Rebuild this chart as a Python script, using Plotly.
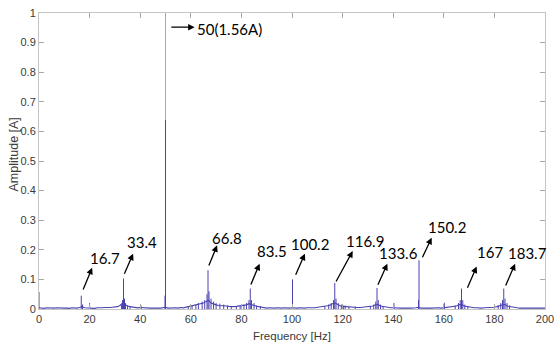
import plotly.graph_objects as go

# ---------------- data ----------------
# broadband floor of the spectrum, one value per Hz from 0 to 200 Hz
floor_freq = list(range(0, 201))
floor_amp = [
    0.004, 0.003, 0.002, 0.004, 0.003, 0.002, 0.003, 0.004, 0.003, 0.002,   # 0-9
    0.003, 0.003, 0.002, 0.004, 0.003, 0.003, 0.005, 0.008, 0.004, 0.003,   # 10-19
    0.003, 0.003, 0.002, 0.004, 0.003, 0.004, 0.005, 0.004, 0.005, 0.006,   # 20-29
    0.006, 0.008, 0.012, 0.020, 0.015, 0.010, 0.008, 0.006, 0.005, 0.004,   # 30-39
    0.005, 0.004, 0.003, 0.004, 0.003, 0.003, 0.004, 0.003, 0.003, 0.005,   # 40-49
    0.006, 0.003, 0.004, 0.003, 0.004, 0.003, 0.005, 0.004, 0.006, 0.008,   # 50-59
    0.009, 0.010, 0.012, 0.014, 0.016, 0.020, 0.025, 0.030, 0.020, 0.016,   # 60-69
    0.014, 0.012, 0.012, 0.010, 0.010, 0.009, 0.008, 0.008, 0.009, 0.010,   # 70-79
    0.011, 0.012, 0.014, 0.018, 0.016, 0.012, 0.009, 0.007, 0.005, 0.004,   # 80-89
    0.003, 0.004, 0.003, 0.003, 0.004, 0.003, 0.003, 0.004, 0.003, 0.003,   # 90-99
    0.004, 0.003, 0.003, 0.004, 0.003, 0.003, 0.004, 0.003, 0.004, 0.004,   # 100-109
    0.005, 0.006, 0.007, 0.009, 0.011, 0.013, 0.018, 0.020, 0.014, 0.011,   # 110-119
    0.009, 0.008, 0.007, 0.006, 0.006, 0.005, 0.005, 0.005, 0.006, 0.006,   # 120-129
    0.007, 0.008, 0.010, 0.014, 0.015, 0.010, 0.008, 0.006, 0.005, 0.004,   # 130-139
    0.004, 0.003, 0.004, 0.003, 0.003, 0.004, 0.003, 0.003, 0.003, 0.004,   # 140-149
    0.006, 0.003, 0.003, 0.004, 0.003, 0.003, 0.004, 0.003, 0.004, 0.003,   # 150-159
    0.004, 0.004, 0.005, 0.006, 0.008, 0.010, 0.014, 0.016, 0.010, 0.008,   # 160-169
    0.006, 0.005, 0.004, 0.004, 0.003, 0.003, 0.004, 0.004, 0.005, 0.005,   # 170-179
    0.006, 0.008, 0.010, 0.014, 0.016, 0.010, 0.008, 0.006, 0.005, 0.004,   # 180-189
    0.003, 0.004, 0.003, 0.003, 0.003, 0.004, 0.003, 0.003, 0.003, 0.003,   # 190-199
    0.003,                                                                   # 200
]
assert len(floor_amp) == len(floor_freq)

# discrete spectral lines (main harmonics and their side components)
line_freq = [
    0.0, 16.7, 17.2, 20.0,
    32.6, 33.0, 33.4, 33.8, 34.2, 35.0, 36.0, 40.3,
    49.8, 50.0,
    59.0, 60.5, 62.0, 63.0, 64.5, 65.5, 66.4, 66.8, 67.2, 68.0, 69.0, 70.0,
    71.5, 73.0, 74.5, 76.0,
    78.0, 79.5, 81.0, 82.0, 83.0, 83.5, 84.0, 85.0, 86.0, 87.5,
    100.2,
    113.0, 114.5, 115.5, 116.4, 116.9, 117.4, 118.3, 119.5, 120.3, 121.0, 122.5, 125.0,
    131.0, 132.3, 133.1, 133.6, 134.1, 135.0, 136.0, 140.3,
    150.0, 150.2, 160.2,
    164.5, 165.8, 166.5, 167.0, 167.5, 168.3, 169.5,
    180.0, 181.5, 182.5, 183.2, 183.7, 184.2, 185.0, 186.0,
]
line_amp = [
    0.057, 0.045, 0.015, 0.020,
    0.015, 0.030, 0.103, 0.035, 0.020, 0.012, 0.010, 0.012,
    0.045, 1.560,
    0.010, 0.012, 0.015, 0.020, 0.025, 0.030, 0.050, 0.131, 0.060, 0.035, 0.025, 0.020,
    0.018, 0.015, 0.012, 0.010,
    0.010, 0.012, 0.015, 0.020, 0.030, 0.069, 0.030, 0.020, 0.012, 0.010,
    0.100,
    0.010, 0.015, 0.020, 0.030, 0.088, 0.035, 0.020, 0.015, 0.012, 0.012, 0.008, 0.008,
    0.010, 0.015, 0.025, 0.071, 0.030, 0.015, 0.010, 0.020,
    0.030, 0.165, 0.021,
    0.012, 0.020, 0.030, 0.069, 0.030, 0.015, 0.010,
    0.010, 0.012, 0.020, 0.030, 0.069, 0.035, 0.020, 0.012,
]
assert len(line_amp) == len(line_freq)

# annotated harmonics
label_texts = ["16.7", "33.4", "66.8", "83.5", "100.2", "116.9",
               "133.6", "150.2", "167", "183.7"]
main_label = "50(1.56A)"

x_ticks = [0, 20, 40, 60, 80, 100, 120, 140, 160, 180, 200]
y_ticks = [0, 0.1, 0.2, 0.3, 0.4, 0.5, 0.6, 0.7, 0.8, 0.9, 1]
y_ticktext = ["0", "0.1", "0.2", "0.3", "0.4", "0.5", "0.6", "0.7", "0.8", "0.9", "1"]

# ---------------- styling / layout ----------------
LINE_COLOR = "#4a42b0"
MAIN_COLOR = "#a6a3da"

# arrow geometry per label: (tail x, tail y, head x, head y, text x, text y)
arrow_geom = [
    (17.2, 0.061, 21.0, 0.139, 26.0, 0.173),
    (33.5, 0.114, 37.2, 0.187, 40.6, 0.227),
    (66.9, 0.142, 70.4, 0.215, 74.5, 0.240),
    (83.5, 0.078, 87.2, 0.153, 92.1, 0.195),
    (101.2, 0.111, 105.1, 0.187, 107.1, 0.219),
    (117.1, 0.088, 124.0, 0.196, 128.8, 0.229),
    (133.7, 0.077, 137.7, 0.153, 141.9, 0.190),
    (151.3, 0.170, 155.2, 0.241, 161.3, 0.276),
    (169.1, 0.067, 173.0, 0.144, 178.1, 0.193),
    (184.2, 0.074, 188.2, 0.153, 192.9, 0.190),
]

# stems: each spectral line drawn from 0 up to its amplitude
stem_x, stem_y = [], []
for f, a in zip(line_freq, line_amp):
    stem_x += [f, f, None]
    stem_y += [0, min(a, 0.64), None]
# the fundamental continues above 0.64 in a lighter tone (anti-aliased trace)
main_idx = line_amp.index(max(line_amp))
main_x = [line_freq[main_idx], line_freq[main_idx]]
main_y = [0.64, line_amp[main_idx]]

fig = go.Figure()
fig.add_trace(go.Scatter(
    x=floor_freq, y=floor_amp, mode="lines",
    line=dict(color=LINE_COLOR, width=1.1), hoverinfo="skip", showlegend=False,
))
fig.add_trace(go.Scatter(
    x=stem_x, y=stem_y, mode="lines", connectgaps=False,
    line=dict(color=LINE_COLOR, width=1), hoverinfo="skip", showlegend=False,
))
fig.add_trace(go.Scatter(
    x=main_x, y=main_y, mode="lines",
    line=dict(color=MAIN_COLOR, width=1), hoverinfo="skip", showlegend=False,
))

annotations = []
ANN_FONT = dict(family="Lato", size=15, color="#000000")
for txt, (tx, ty, hx, hy, lx, ly) in zip(label_texts, arrow_geom):
    annotations.append(dict(
        x=hx, y=hy, ax=tx, ay=ty, xref="x", yref="y", axref="x", ayref="y",
        text="", showarrow=True, arrowhead=2, arrowsize=1.0, arrowwidth=1.3,
        arrowcolor="#000000",
    ))
    annotations.append(dict(
        x=lx, y=ly, xref="x", yref="y", text=txt, showarrow=False,
        xanchor="center", yanchor="middle", font=ANN_FONT,
    ))

annotations.append(dict(
    x=61.5, y=0.952, ax=51.7, ay=0.952, xref="x", yref="y", axref="x", ayref="y",
    text="", showarrow=True, arrowhead=2, arrowsize=1.0, arrowwidth=1.3,
    arrowcolor="#000000",
))
annotations.append(dict(
    x=61.6, y=0.947, xref="x", yref="y", text=main_label, showarrow=False,
    xanchor="left", yanchor="middle", font=ANN_FONT,
))

SANS = "Liberation Sans"
AX_FONT = dict(family=SANS, size=11, color="#3a3a3a")

W, H = 554, 345
L, R, T, B = 39, 9, 13, 36
PW, PH = W - L - R, H - T - B

annotations.append(dict(
    x=(292 - L) / PW, y=1 - (335.5 - T) / PH, xref="paper", yref="paper",
    text="Frequency [Hz]", showarrow=False,
    font=dict(family=SANS, size=11.5, color="#3a3a3a"),
    xanchor="center", yanchor="middle",
))
annotations.append(dict(
    x=(13.5 - L) / PW, y=1 - (155 - T) / PH, xref="paper", yref="paper",
    text="Amplitude [A]", showarrow=False,
    font=dict(family=SANS, size=12.5, color="#3a3a3a"),
    textangle=-90, xanchor="center", yanchor="middle",
))

fig.update_layout(
    width=W, height=H,
    margin=dict(l=L, r=R, t=T, b=B, pad=0, autoexpand=False),
    paper_bgcolor="white", plot_bgcolor="white",
    annotations=annotations,
    xaxis=dict(
        range=[0, 200], tickvals=x_ticks, ticks="inside", ticklen=5,
        tickcolor="#a8a8a8", showline=True, linecolor="#c4c4c4", linewidth=1,
        mirror="ticks", showgrid=False, zeroline=False, tickfont=AX_FONT,
        automargin=False, ticklabeloverflow="allow",
    ),
    yaxis=dict(
        range=[0, 1], tickvals=y_ticks, ticktext=y_ticktext, ticks="inside",
        ticklen=5, tickcolor="#a8a8a8", showline=True, linecolor="#c4c4c4",
        linewidth=1, mirror="ticks", showgrid=False, zeroline=False,
        tickfont=AX_FONT, automargin=False, ticklabeloverflow="allow",
    ),
)

fig.write_html(
    "out.html",
    config={"displayModeBar": False},
    post_script="document.body.style.margin='0';document.body.style.padding='0';",
)
